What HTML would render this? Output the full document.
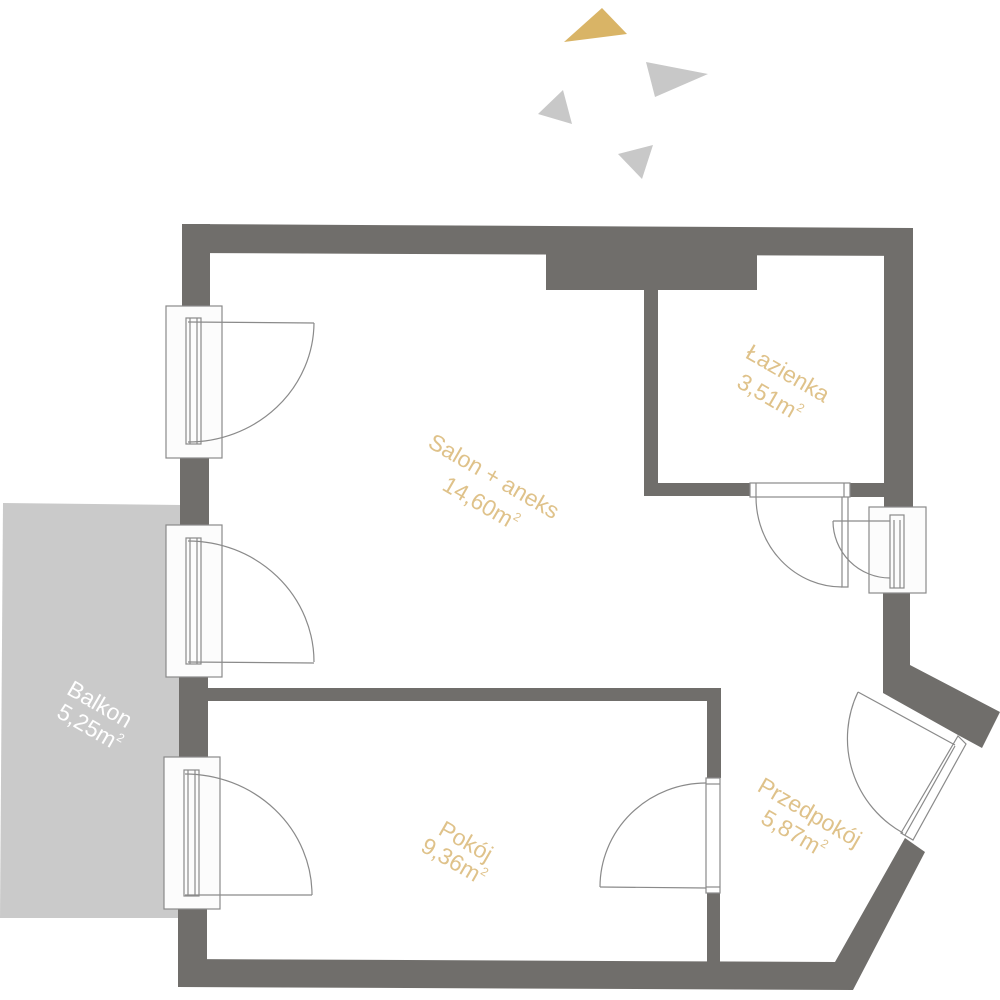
<!DOCTYPE html>
<html><head><meta charset="utf-8"><style>
html,body{margin:0;padding:0;background:#fff;width:1000px;height:1000px;overflow:hidden}
svg{display:block}
.l{font-family:"Liberation Sans",sans-serif;font-size:23px;fill:#dfc28a;text-anchor:middle}
</style></head><body>
<svg width="1000" height="1000" viewBox="0 0 1000 1000" xmlns="http://www.w3.org/2000/svg">
<polygon points="602,8 627,34 564,42" fill="#d9b466"/>
<polygon points="563,90 572,124 538,114" fill="#c8c8c8"/>
<polygon points="646,62 708,74 655,97" fill="#c8c8c8"/>
<polygon points="618,154 653,145 642,179" fill="#c8c8c8"/>
<polygon points="3,503 182,505 180,918 0,918" fill="#cacaca"/>
<g fill="#706e6b">
<polygon points="182,224 913,228 913,256 182,253"/>
<rect x="182" y="224" width="28" height="90"/>
<rect x="180" y="449" width="29" height="87"/>
<rect x="179" y="669" width="29" height="99"/>
<rect x="178" y="901" width="29" height="86"/>
<polygon points="178,959 835,962 905,838 925,852 853,990 178,987"/>
<rect x="884" y="228" width="29" height="279"/>
<polygon points="883,593 910,593 910,665 1000,712 982,748 958,735 883,693"/>
<rect x="546" y="253" width="211" height="37"/>
<rect x="644" y="290" width="14" height="206"/>
<rect x="644" y="483" width="106" height="13"/>
<rect x="850" y="483" width="34" height="14"/>
<rect x="207" y="688" width="514" height="13"/>
<rect x="707" y="688" width="14" height="90"/>
<rect x="707" y="893" width="13" height="70"/>
</g>
<g fill="none" stroke="#8a8a8a" stroke-width="1.2">
<rect x="166" y="306" width="56" height="152" fill="#fcfcfc"/>
<rect x="186" y="318" width="15" height="126"/><line x1="190" y1="318" x2="190" y2="444"/><line x1="197" y1="318" x2="197" y2="444"/>
<line x1="188" y1="322" x2="314" y2="323"/>
<path d="M314,323 A126,120 0 0 1 188,442"/>
<rect x="166" y="525" width="56" height="152" fill="#fcfcfc"/>
<rect x="186" y="538" width="15" height="126"/><line x1="190" y1="538" x2="190" y2="664"/><line x1="197" y1="538" x2="197" y2="664"/>
<line x1="188" y1="662" x2="314" y2="663"/>
<path d="M188,541 A126,121 0 0 1 314,662"/>
<rect x="164" y="757" width="56" height="152" fill="#fcfcfc"/>
<rect x="184" y="770" width="15" height="126"/><line x1="188" y1="770" x2="188" y2="896"/><line x1="195" y1="770" x2="195" y2="896"/>
<line x1="185" y1="895" x2="312" y2="895"/>
<path d="M185,774 A127,121 0 0 1 312,895"/>
<rect x="750" y="483" width="100" height="14" fill="#fff"/>
<line x1="756" y1="483" x2="756" y2="497"/><line x1="844" y1="483" x2="844" y2="497"/>
<polyline points="842,497 842,587 848,587 848,497"/>
<path d="M756,497 A86,90 0 0 0 842,587"/>
<rect x="869" y="507" width="57" height="86" fill="#fcfcfc"/>
<rect x="890" y="515" width="14" height="73"/>
<line x1="894" y1="520" x2="894" y2="588"/><line x1="900" y1="520" x2="900" y2="588"/>
<line x1="833" y1="521" x2="890" y2="521"/>
<path d="M833,521 A57,57 0 0 0 890,578"/>
<rect x="706" y="778" width="14" height="115" fill="#fff"/>
<line x1="706" y1="784" x2="720" y2="784"/><line x1="706" y1="887" x2="720" y2="887"/>
<line x1="600" y1="887" x2="706" y2="888"/>
<path d="M706,783 A106,104 0 0 0 600,887"/>
<polygon points="958,736 966,744 913,840 901,833" fill="#fff"/>
<line x1="955" y1="746" x2="905" y2="835"/>
<line x1="858" y1="692" x2="955" y2="745"/>
<path d="M858,692 A108,108 0 0 0 903,833"/>
</g>
<g class="l">
<text transform="translate(490,483) rotate(30)">Salon + aneks</text>
<text transform="translate(477,510) rotate(30)">14,60m<tspan font-size="12" dy="-10">2</tspan></text>
<text transform="translate(784,380) rotate(30)">Łazienka</text>
<text transform="translate(766,404) rotate(30)">3,51m<tspan font-size="12" dy="-10">2</tspan></text>
<text transform="translate(806,819) rotate(30)">Przedpokój</text>
<text transform="translate(790,840) rotate(30)">5,87m<tspan font-size="12" dy="-10">2</tspan></text>
<text transform="translate(462,848) rotate(30)">Pokój</text>
<text transform="translate(450,868) rotate(30)">9,36m<tspan font-size="12" dy="-10">2</tspan></text>
<text style="fill:#fff" transform="translate(96,711) rotate(30)">Balkon</text>
<text style="fill:#fff" transform="translate(86,734) rotate(30)">5,25m<tspan font-size="12" dy="-10">2</tspan></text>
</g>
</svg>
</body></html>
